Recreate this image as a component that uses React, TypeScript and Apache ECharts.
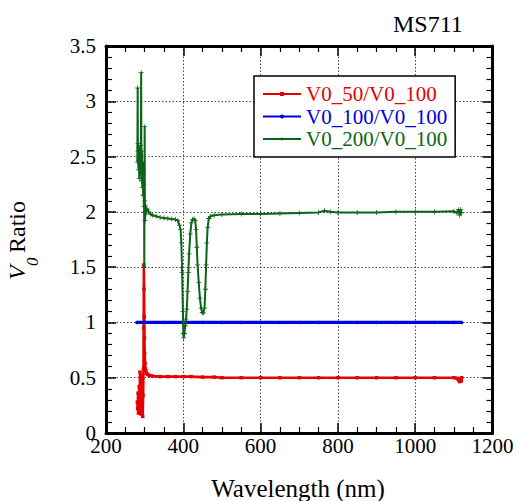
import React, { useEffect, useRef } from "react";
import * as echarts from "echarts";

const seriesNames = ["V0_50/V0_100", "V0_100/V0_100", "V0_200/V0_100"];
const seriesColors = ["#e60000", "#0000e0", "#0b6418"];
const xTicks = [200, 400, 600, 800, 1000, 1200];
const yTicks = [0, 0.5, 1, 1.5, 2, 2.5, 3, 3.5];

const redData: [number, number][] = [
  [281, 0.28], [282, 0.22], [283, 0.36], [284, 0.18], [285, 0.31], [286, 0.42],
  [287, 0.21], [288, 0.55], [289, 0.26], [290, 0.38], [291, 0.17], [292, 0.44],
  [293, 0.23], [294, 0.52], [295, 0.15], [296, 0.34], [297, 0.58], [297.5, 0.95],
  [298, 1.52], [298.5, 1.3], [299, 1.05], [299.5, 0.86], [300, 0.72], [301, 0.63],
  [302, 0.58], [303, 0.56], [305, 0.54], [308, 0.53], [312, 0.52], [320, 0.515],
  [340, 0.51], [360, 0.51], [380, 0.51], [400, 0.51], [420, 0.51], [450, 0.505],
  [480, 0.505], [500, 0.5], [550, 0.5], [600, 0.5], [650, 0.5], [700, 0.5],
  [750, 0.5], [800, 0.5], [850, 0.5], [900, 0.5], [950, 0.5], [1000, 0.5],
  [1050, 0.5], [1100, 0.5], [1108, 0.495], [1112, 0.48], [1115, 0.465],
  [1117, 0.49], [1119, 0.47], [1120, 0.5],
];

const blueData: [number, number][] = [
  [280, 1.0], [300, 1.0], [350, 1.0], [400, 1.0], [450, 1.0], [500, 1.0],
  [550, 1.0], [600, 1.0], [650, 1.0], [700, 1.0], [750, 1.0], [800, 1.0],
  [850, 1.0], [900, 1.0], [950, 1.0], [1000, 1.0], [1050, 1.0], [1100, 1.0],
  [1120, 1.0],
];

const greenData: [number, number][] = [
  [281, 2.45], [282, 3.12], [282.5, 2.55], [283, 2.62], [284, 2.38], [285, 2.58],
  [286, 2.3], [287, 2.52], [288, 2.4], [289, 2.6], [290, 2.35], [291, 3.26],
  [291.5, 2.5], [292, 2.28], [293, 2.55], [294, 2.22], [295, 2.45], [296, 2.15],
  [297, 2.38], [298, 2.05], [298.5, 2.25], [299, 1.5], [299.5, 2.0], [300, 2.77],
  [300.5, 2.1], [301, 1.92], [302, 2.06], [303, 1.98], [304, 2.03], [305, 2.01],
  [307, 2.02], [310, 2.0], [315, 1.98], [320, 1.97], [330, 1.96], [340, 1.95],
  [350, 1.945], [360, 1.94], [370, 1.935], [380, 1.93], [386, 1.92], [390, 1.88],
  [393, 1.84], [395, 1.72], [397, 1.45], [399, 1.1], [400, 0.9], [401, 0.86],
  [403, 0.9], [405, 0.97], [407, 1.03], [409, 1.12], [411, 1.28], [413, 1.45],
  [415, 1.62], [418, 1.8], [421, 1.9], [424, 1.93], [428, 1.935], [431, 1.92],
  [433, 1.84], [435, 1.68], [437, 1.52], [440, 1.36], [443, 1.22], [446, 1.13],
  [449, 1.09], [452, 1.085], [455, 1.13], [457, 1.3], [459, 1.52], [461, 1.72],
  [463, 1.86], [466, 1.94], [470, 1.96], [480, 1.97], [500, 1.975], [550, 1.98],
  [600, 1.98], [650, 1.985], [700, 1.99], [750, 1.995], [765, 2.01], [780, 2.0],
  [800, 1.995], [850, 1.995], [900, 1.995], [950, 2.0], [1000, 2.0], [1050, 2.0],
  [1100, 2.005], [1108, 1.99], [1112, 2.02], [1115, 1.97], [1118, 2.02], [1120, 1.99],
];

const FONT = "'Liberation Serif', 'Times New Roman', serif";
const PLUS = "path://M0,4.2H10V5.8H0Z M4.2,0H5.8V10H4.2Z";

export default function App() {
  const ref = useRef<HTMLDivElement>(null);
  useEffect(() => {
    document.body.style.margin = "0";
    const chart = echarts.init(ref.current!, null, { renderer: "svg" });
    const xMin = xTicks[0];
    const xMax = xTicks[xTicks.length - 1];
    const yMin = yTicks[0];
    const yMax = yTicks[yTicks.length - 1];
    const axisLine = { show: true, onZero: false, lineStyle: { color: "#000", width: 3 } };
    const xBase = {
      type: "value" as const,
      min: xMin,
      max: xMax,
      interval: xTicks[1] - xTicks[0],
      axisLine,
      axisTick: { show: true, inside: true, length: 10, lineStyle: { color: "#000", width: 1.5 } },
      minorTick: { show: true, splitNumber: 4, length: 6, lineStyle: { color: "#000", width: 1.2 } },
    };
    const yBase = {
      type: "value" as const,
      min: yMin,
      max: yMax,
      interval: yTicks[1] - yTicks[0],
      axisLine,
      axisTick: { show: true, inside: true, length: 10, lineStyle: { color: "#000", width: 1.5 } },
      minorTick: { show: true, splitNumber: 5, length: 6, lineStyle: { color: "#000", width: 1.2 } },
    };
    const splitLine = { show: true, lineStyle: { color: "#444", width: 1, type: [1.5, 2] } };
    const symbols = ["rect", "circle", PLUS];
    const symbolSizes = [3.5, 3.5, 5];
    const widths = [2.6, 3.2, 2];
    const datas = [redData, blueData, greenData];

    chart.setOption({
      animation: false,
      grid: { left: 106, right: 24.5, top: 46, bottom: 68, containLabel: false },
      xAxis: [
        {
          ...xBase,
          position: "bottom",
          splitLine,
          axisLabel: {
            show: true,
            color: "#000",
            fontFamily: FONT,
            fontSize: 21,
            lineHeight: 14,
            margin: 6,
            formatter: (v: number) => String(v),
          },
        },
        { ...xBase, position: "top", splitLine: { show: false }, axisLabel: { show: false } },
      ],
      yAxis: [
        {
          ...yBase,
          position: "left",
          splitLine,
          axisLabel: {
            show: true,
            color: "#000",
            fontFamily: FONT,
            fontSize: 21,
            lineHeight: 12,
            margin: 10,
            formatter: (v: number) => String(v),
          },
        },
        { ...yBase, position: "right", splitLine: { show: false }, axisLabel: { show: false } },
      ],
      legend: {
        show: true,
        left: 254,
        top: 76,
        orient: "vertical",
        backgroundColor: "#fff",
        borderColor: "#000",
        borderWidth: 1.5,
        padding: [7, 8, 7, 8],
        itemGap: 0.5,
        itemWidth: 38,
        itemHeight: 5,
        z: 10,
        textStyle: { fontFamily: FONT, fontSize: 21, lineHeight: 22 },
        data: seriesNames.map((n, i) => ({ name: n, textStyle: { color: seriesColors[i] } })),
      },
      graphic: [
        {
          type: "text",
          left: 393,
          top: 12,
          style: { text: "MS711", font: `24px ${FONT}`, fill: "#000" },
        },
        {
          type: "text",
          x: 298,
          y: 488,
          style: {
            text: "Wavelength (nm)",
            font: `25px ${FONT}`,
            fill: "#000",
            align: "center",
            verticalAlign: "middle",
          },
        },
        {
          type: "group",
          x: 17,
          y: 280,
          rotation: Math.PI / 2,
          children: [
            {
              type: "text",
              x: 0,
              y: 0,
              style: { text: "V", font: `italic 24px ${FONT}`, fill: "#000", verticalAlign: "middle" },
            },
            {
              type: "text",
              x: 14,
              y: 15,
              style: { text: "0", font: `italic 17px ${FONT}`, fill: "#000", verticalAlign: "middle" },
            },
            {
              type: "text",
              x: 27,
              y: 0,
              style: { text: "Ratio", font: `24px ${FONT}`, fill: "#000", verticalAlign: "middle" },
            },
          ],
        },
      ],
      series: seriesNames.map((n, i) => ({
        name: n,
        type: "line",
        xAxisIndex: 0,
        yAxisIndex: 0,
        data: datas[i],
        symbol: symbols[i],
        symbolSize: symbolSizes[i],
        showSymbol: true,
        lineStyle: { color: seriesColors[i], width: widths[i] },
        itemStyle: { color: seriesColors[i] },
        z: 2 + i,
      })),
    });
    return () => chart.dispose();
  }, []);
  return <div ref={ref} style={{ width: 517, height: 501 }} />;
}
